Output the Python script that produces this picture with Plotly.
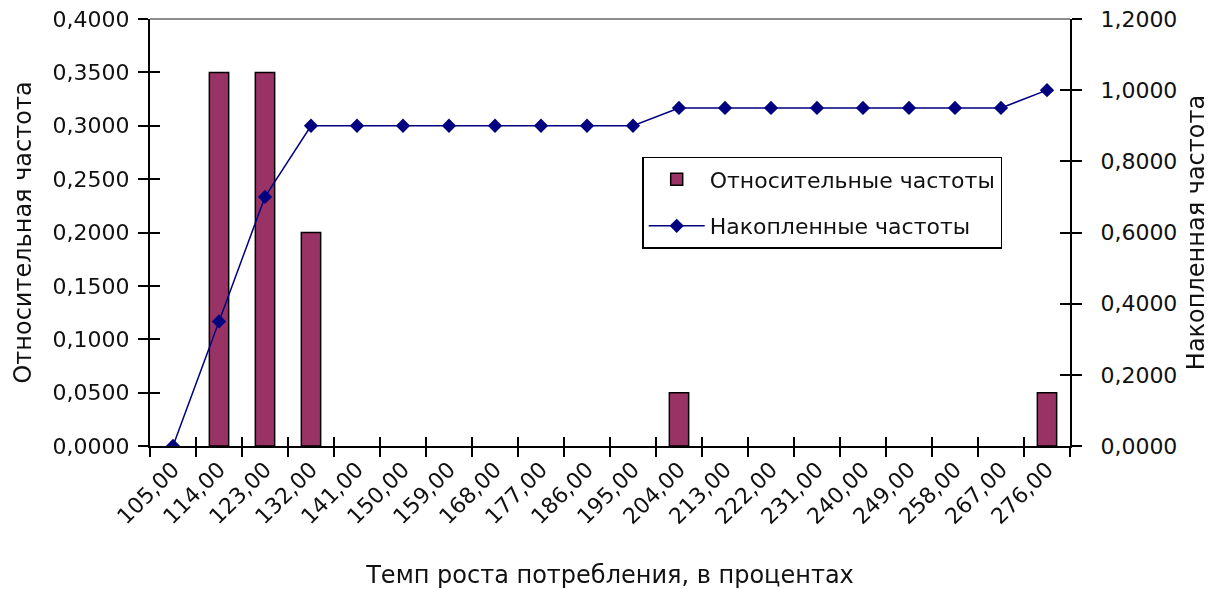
import plotly.graph_objects as go

# Interval starts (growth rate of consumption, %)
categories = ["105,00", "114,00", "123,00", "132,00", "141,00", "150,00", "159,00",
              "168,00", "177,00", "186,00", "195,00", "204,00", "213,00", "222,00",
              "231,00", "240,00", "249,00", "258,00", "267,00", "276,00"]

# Relative frequencies per interval
rel_freq = [0.0, 0.35, 0.35, 0.20, 0.0, 0.0, 0.0, 0.0, 0.0, 0.0,
            0.0, 0.05, 0.0, 0.0, 0.0, 0.0, 0.0, 0.0, 0.0, 0.05]

# Cumulative frequencies
cum_freq = [0.0, 0.35, 0.70, 0.90, 0.90, 0.90, 0.90, 0.90, 0.90, 0.90,
            0.90, 0.95, 0.95, 0.95, 0.95, 0.95, 0.95, 0.95, 0.95, 1.00]

BAR_COLOR = "#993366"
LINE_COLOR = "#000080"
TXT = "#111111"
FONT = "DejaVu Sans"
FS = 22
TITLE_FS = 24

# empty intervals get no bar outline
bar_y = [v if v > 0 else None for v in rel_freq]

fig = go.Figure()

fig.add_trace(go.Bar(
    x=categories, y=bar_y, name="Относительные частоты",
    marker=dict(color=BAR_COLOR, line=dict(color="black", width=1.5)),
    width=0.42, legendgroup="a",
))

fig.add_trace(go.Scatter(
    x=categories, y=cum_freq, name="Накопленные частоты", yaxis="y2",
    mode="lines+markers",
    line=dict(color=LINE_COLOR, width=1.5),
    marker=dict(symbol="diamond", size=11, color=LINE_COLOR),
    legendgroup="b",
))

# transparent copies of the series on the overlay axes that carry the
# inward half of each tick mark
ghost = dict(mode="markers", opacity=0, showlegend=False, hoverinfo="skip")
fig.add_trace(go.Scatter(x=categories, y=rel_freq, xaxis="x2", yaxis="y", **ghost))
fig.add_trace(go.Scatter(x=categories, y=rel_freq, xaxis="x", yaxis="y3", **ghost))
fig.add_trace(go.Scatter(x=categories, y=cum_freq, xaxis="x", yaxis="y4", **ghost))

tick_font = dict(family=FONT, size=FS, color=TXT)
title_font = dict(family=FONT, size=TITLE_FS, color=TXT)
inner = dict(ticks="inside", ticklen=10, tickwidth=2, tickcolor="black",
             showticklabels=False, showline=False, showgrid=False, zeroline=False)

fig.update_layout(
    width=1219, height=589,
    margin=dict(l=150, r=149, t=19, b=143),
    paper_bgcolor="white", plot_bgcolor="white",
    separators=", ",
    showlegend=True,
    legend=dict(
        x=0.535, y=0.677, xanchor="left", yanchor="top",
        bgcolor="white", bordercolor="black", borderwidth=1.5,
        font=dict(family=FONT, size=FS, color=TXT),
        tracegroupgap=15, itemwidth=56,
    ),
    xaxis=dict(
        type="category", categoryorder="array", categoryarray=categories,
        range=[-0.5, 19.5],
        showline=True, linecolor="black", linewidth=2,
        ticks="outside", ticklen=9, tickwidth=2, tickcolor="black",
        tickson="boundaries", tickangle=-45,
        tickfont=tick_font, showgrid=False, zeroline=False,
        title=dict(text="Темп роста потребления, в процентах",
                   font=title_font, standoff=39),
        automargin=False,
    ),
    xaxis2=dict(overlaying="x", anchor="y", type="category",
                categoryorder="array", categoryarray=categories,
                range=[-0.5, 19.5], tickson="boundaries", ticklen=9, **{
                    k: v for k, v in inner.items() if k != "ticklen"}),
    yaxis=dict(
        range=[0, 0.4], dtick=0.05, tickformat=".4f",
        showline=True, linecolor="black", linewidth=2,
        ticks="outside", ticklen=10, tickwidth=2, tickcolor="black",
        tickfont=tick_font, showgrid=False, zeroline=False,
        ticklabelstandoff=4,
        title=dict(text="Относительная частота", font=title_font, standoff=14),
        automargin=False,
    ),
    yaxis2=dict(
        overlaying="y", side="right", anchor="x",
        range=[0, 1.2], dtick=0.2, tickformat=".4f",
        showline=True, linecolor="black", linewidth=2,
        ticks="outside", ticklen=10, tickwidth=2, tickcolor="black",
        tickfont=tick_font, showgrid=False, zeroline=False,
        ticklabelstandoff=14,
        title=dict(text="Накопленная частота", font=title_font, standoff=11),
        automargin=False,
    ),
    yaxis3=dict(overlaying="y", side="left", anchor="x",
                range=[0, 0.4], dtick=0.05, **inner),
    yaxis4=dict(overlaying="y", side="right", anchor="x",
                range=[0, 1.2], dtick=0.2, **inner),
    shapes=[dict(type="line", xref="paper", yref="paper", x0=0, x1=1, y0=1, y1=1,
                 line=dict(color="#8c8c8c", width=2), layer="below")],
)

fig.write_html("out.html")
